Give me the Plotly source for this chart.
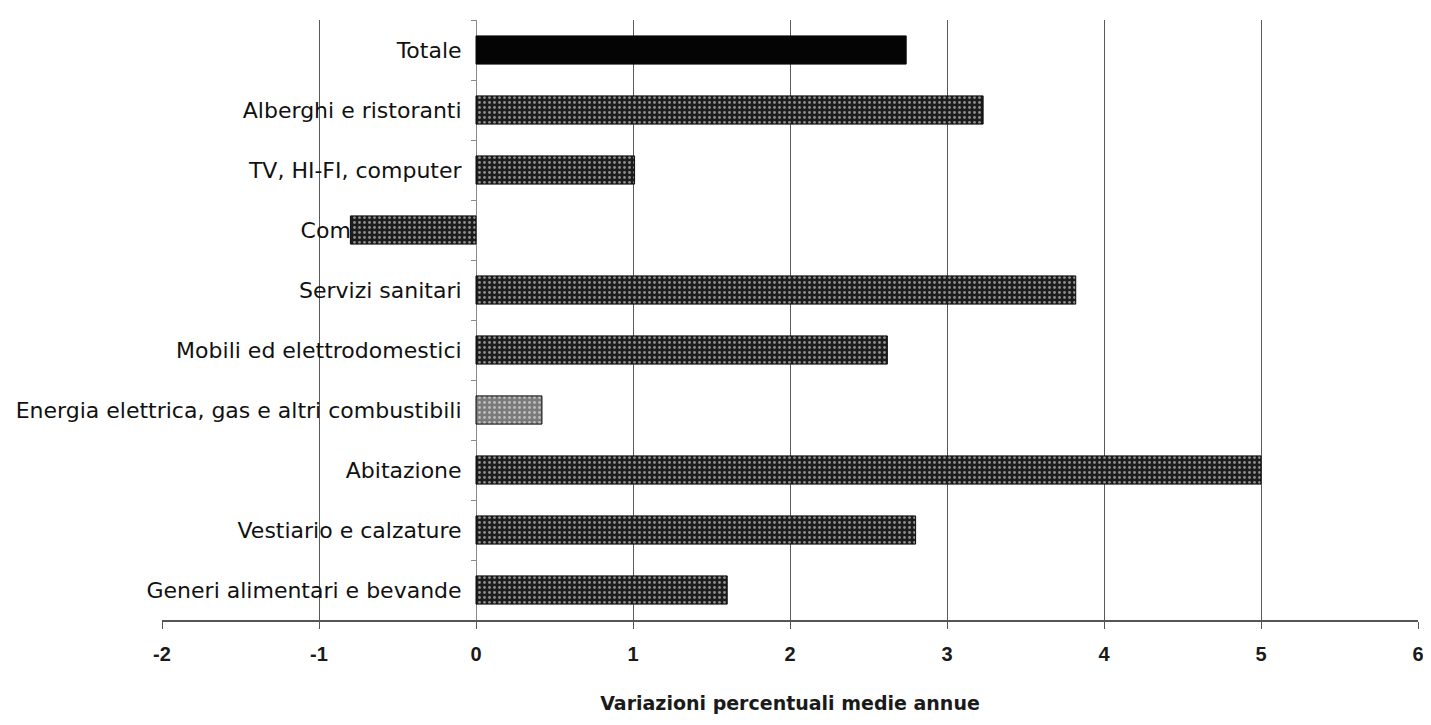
import plotly.graph_objects as go

categories = [
    "Generi alimentari e bevande",
    "Vestiario e calzature",
    "Abitazione",
    "Energia elettrica, gas e altri combustibili",
    "Mobili ed elettrodomestici",
    "Servizi sanitari",
    "Comunicazioni",
    "TV, HI-FI, computer",
    "Alberghi e ristoranti",
    "Totale",
]
values = [1.6, 2.8, 5.0, 0.42, 2.62, 3.82, -0.8, 1.01, 3.23, 2.74]
bar_colors = ["#1c1c1c", "#1c1c1c", "#1c1c1c", "#7a7a7a", "#1c1c1c",
              "#1c1c1c", "#1c1c1c", "#1c1c1c", "#1c1c1c", "#040404"]
pattern_fg = ["#4c4c4c", "#4c4c4c", "#4c4c4c", "#9a9a9a", "#4c4c4c",
              "#4c4c4c", "#4c4c4c", "#4c4c4c", "#4c4c4c", "#040404"]
pattern_shape = [".", ".", ".", ".", ".", ".", ".", ".", ".", ""]
x_ticks = [-2, -1, 0, 1, 2, 3, 4, 5, 6]
x_title = "Variazioni percentuali medie annue"

fig = go.Figure()
fig.add_trace(go.Bar(
    x=values, y=categories, orientation="h", width=0.47,
    marker=dict(
        color=bar_colors,
        line=dict(color="#0a0a0a", width=1),
        pattern=dict(shape=pattern_shape, fgcolor=pattern_fg, size=5, solidity=0.25,
                     fillmode="overlay"),
    ),
    showlegend=False,
))

fig.update_layout(
    width=1431, height=725,
    margin=dict(l=154, r=21, t=12, b=113),
    paper_bgcolor="white", plot_bgcolor="white",
    bargap=0.5,
    xaxis=dict(
        range=[-2, 6], tickvals=x_ticks, ticktext=[str(v) for v in x_ticks],
        showgrid=True, gridcolor="#5a5a5a", gridwidth=1,
        zeroline=False, showline=True, linecolor="#555555", linewidth=2,
        ticks="outside", ticklen=7, tickcolor="#555555",
        tickfont=dict(family="Liberation Sans", size=20, color="#1a1a1a", weight="bold"),
        ticklabelstandoff=8,
        title=dict(text=x_title, standoff=33,
                   font=dict(family="DejaVu Sans", size=19, color="#1a1a1a", weight="bold")),
    ),
    yaxis=dict(
        type="category", categoryorder="array", categoryarray=categories,
        range=[-0.5, 9.5], anchor="free", position=0.25,
        showline=True, linecolor="#8a8a8a", linewidth=1,
        ticks="outside", tickson="boundaries", ticklen=5, tickcolor="#8a8a8a",
        showgrid=False, layer="below traces", automargin=False,
        ticklabelstandoff=10,
        tickfont=dict(family="DejaVu Sans", size=22, color="#111111"),
    ),
)

fig.write_html("out.html")
